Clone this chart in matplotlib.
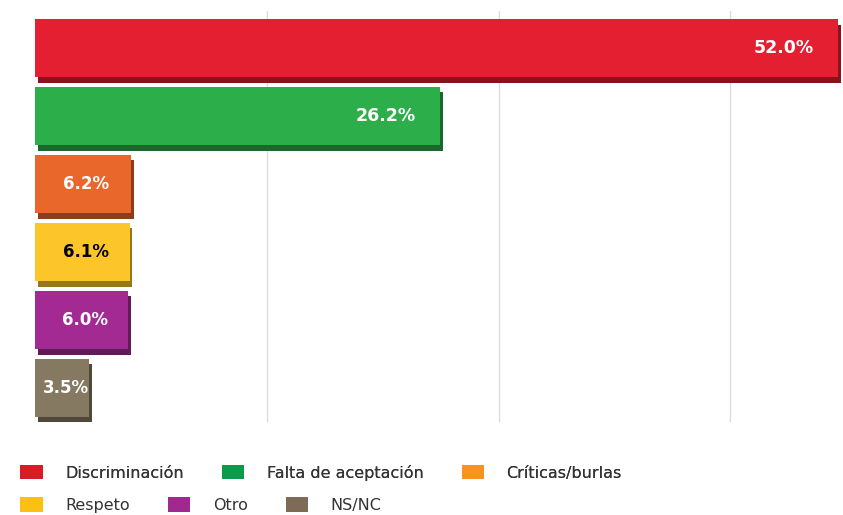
import matplotlib
matplotlib.use("Agg")
import matplotlib.pyplot as plt
import matplotlib.patheffects as pe
from matplotlib.patches import Patch
from matplotlib.colors import to_rgb

# data
categories = ["Discriminación", "Falta de aceptación", "Críticas/burlas", "Respeto", "Otro", "NS/NC"]
values = [52.0, 26.2, 6.2, 6.1, 6.0, 3.5]
bar_colors = ["#e41f31", "#2cae4a", "#e9672b", "#fcc62b", "#a32a93", "#857962"]
legend_colors = ["#d81c26", "#0b9b4b", "#f7931e", "#fdc012", "#a0288f", "#7d6b57"]
label_colors = ["white", "white", "white", "black", "white", "white"]
grid_ticks = [15, 30, 45]


def darker(c, f=0.6):
    r, g, b = to_rgb(c)
    return (r * f, g * f, b * f)


fig = plt.figure(figsize=(8.43, 5.15), dpi=100)
ax = fig.add_axes([0.042, 0.181, 0.958, 0.798])

ypos = list(range(len(values)))
bars = ax.barh(ypos, values, height=0.86, color=bar_colors, zorder=3)

# fake 3D depth: dark edge under/right of each bar
for b, c in zip(bars, bar_colors):
    b.set_path_effects([
        pe.SimplePatchShadow(offset=(2, -4), shadow_rgbFace=darker(c), alpha=1.0),
        pe.Normal(),
    ])

for y, v, tc in zip(ypos, values, label_colors):
    if v < 10:
        ax.text(v / 2 + 0.2, y, f"{v:.1f}%", ha="center", va="center",
                color=tc, fontsize=12, fontweight="bold", zorder=4)
    else:
        ax.text(v - 1.6, y, f"{v:.1f}%", ha="right", va="center",
                color=tc, fontsize=12.5, fontweight="bold", zorder=4)

ax.set_xlim(0, 52.3)
ax.set_ylim(len(values) - 0.5, -0.55)
ax.set_xticks(grid_ticks)
ax.set_yticks([])
ax.grid(axis="x", color="#dcdcdc", linewidth=1.0, zorder=0)
ax.tick_params(axis="x", length=0, labelbottom=False)
for s in ax.spines.values():
    s.set_visible(False)

# legend, two free-flowing rows
handles = [Patch(facecolor=c, edgecolor="none") for c in legend_colors]
common = dict(frameon=False, fontsize=11.5, handlelength=1.4, handleheight=1.0,
              handletextpad=1.4, columnspacing=2.4, borderaxespad=0, borderpad=0,
              labelcolor="#333333")
leg1 = fig.legend(handles[:3], categories[:3], ncol=3, loc="center left",
                  bbox_to_anchor=(0.024, 0.082), **common)
fig.add_artist(leg1)
fig.legend(handles[3:], categories[3:], ncol=3, loc="center left",
           bbox_to_anchor=(0.024, 0.019), **common)

fig.savefig("out.png", dpi=100)
